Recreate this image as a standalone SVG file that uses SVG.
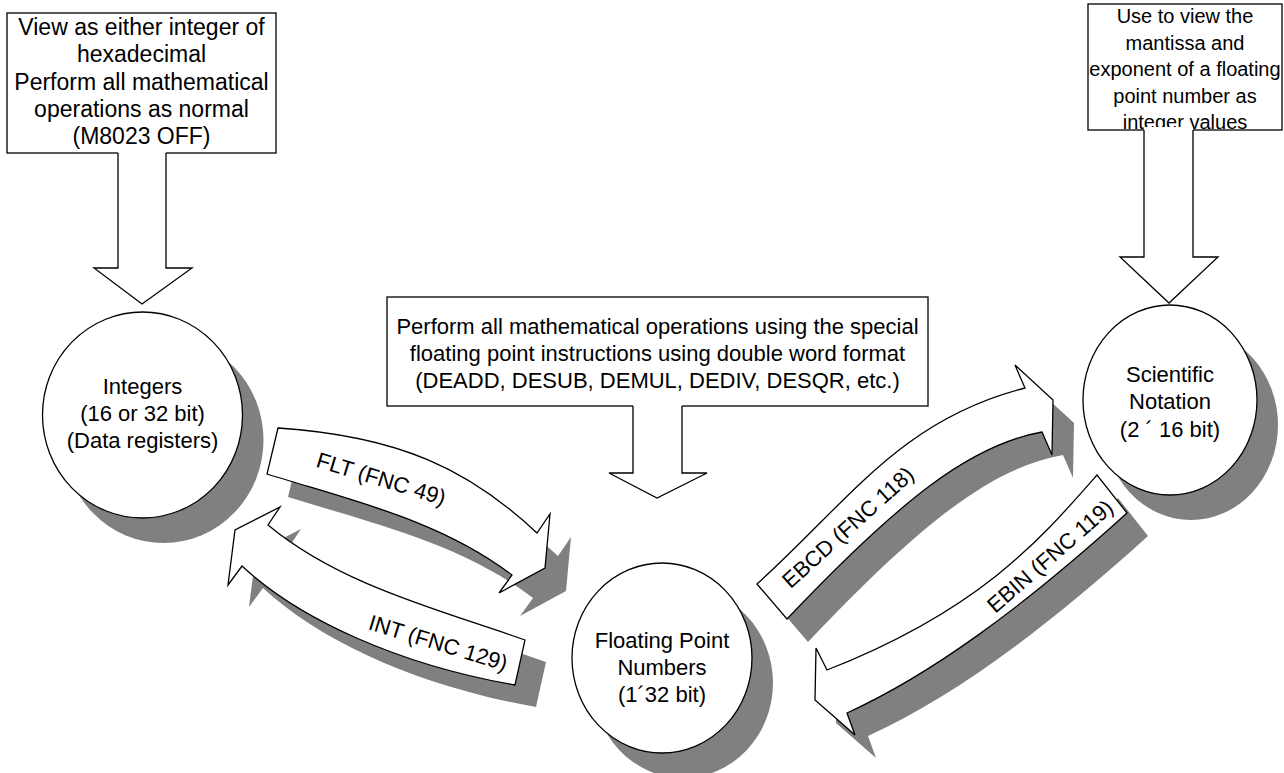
<svg xmlns="http://www.w3.org/2000/svg" width="1284" height="773" viewBox="0 0 1284 773">
<style>
.shape{fill:#fff;stroke:#000;stroke-width:1.3;stroke-linejoin:miter}
.shadow{fill:#808080;stroke:none}
.cover{fill:#fff;stroke:none}
.line{fill:none;stroke:#000;stroke-width:1.3;stroke-linejoin:miter}
text{font-family:"Liberation Sans",Arial,sans-serif;fill:#000;text-anchor:middle}
.t23{font-size:23px}
.t22{font-size:22px}
.t20{font-size:20px}
</style>
<defs>
<path id="fltP" d="M278,428 C400,436 470,470 537,533 L550,514 L545,568 L499,593 L512,575 C440,520 350,500 267,474 Z"/>
<path id="intP" d="M525,640 C440,610 340,585 268,525 L280,507 L235,530 L228,585 L242,566 C300,620 400,665 515,685 Z"/>
<path id="ebcdP" d="M757,584 C850,500 900,420 1025,388 L1015,365 L1053,400 L1052,455 L1042,432 C970,445 900,500 787,619 Z"/>
<path id="ebinP" d="M1097,475 C1040,540 980,610 827,670 L816,648 L815,700 L855,735 L847,713 C930,675 1020,610 1127,513 Z"/>
</defs>
<rect width="1284" height="773" fill="#fff"/>

<g id="shadows">
<ellipse class="shadow" cx="163.5" cy="440" rx="100" ry="103"/>
<ellipse class="shadow" cx="683" cy="683" rx="90" ry="95"/>
<ellipse class="shadow" cx="1191" cy="425" rx="87" ry="95"/>
<use href="#fltP" class="shadow" transform="translate(21,23)"/>
<use href="#intP" class="shadow" transform="translate(21,22)"/>
<use href="#ebcdP" class="shadow" transform="translate(21,23)"/>
<use href="#ebinP" class="shadow" transform="translate(21,23)"/>
</g>

<g id="note-integers">
<rect class="shape" x="7" y="13" width="269" height="140"/>
<text class="t23" x="141.5" y="35">View as either integer of</text>
<text class="t23" x="141.5" y="62">hexadecimal</text>
<text class="t23" x="141.5" y="90">Perform all mathematical</text>
<text class="t23" x="141.5" y="117">operations as normal</text>
<text class="t23" x="141.5" y="144">(M8023 OFF)</text>
</g>

<g id="note-float">
<rect class="shape" x="387" y="297" width="541" height="109"/>
<text class="t22" x="657.5" y="334">Perform all mathematical operations using the special</text>
<text class="t22" x="657.5" y="361">floating point instructions using double word format</text>
<text class="t22" x="657.5" y="388">(DEADD, DESUB, DEMUL, DEDIV, DESQR, etc.)</text>
</g>

<g id="note-scientific">
<rect class="shape" x="1088" y="4" width="194" height="126"/>
<text class="t20" x="1185" y="23">Use to view the</text>
<text class="t20" x="1185" y="49.5">mantissa and</text>
<text class="t20" x="1185" y="76">exponent of a floating</text>
<text class="t20" x="1185" y="102.5">point number as</text>
<text class="t20" x="1185" y="129">integer values</text>
</g>

<g id="node-integers">
<ellipse class="shape" cx="142.5" cy="415" rx="100" ry="103"/>
<text class="t22" x="142.5" y="394">Integers</text>
<text class="t22" x="142.5" y="421">(16 or 32 bit)</text>
<text class="t22" x="142.5" y="448">(Data registers)</text>
</g>

<g id="node-float">
<ellipse class="shape" cx="662" cy="658" rx="90" ry="95"/>
<text class="t22" x="662" y="648">Floating Point</text>
<text class="t22" x="662" y="675">Numbers</text>
<text class="t22" x="662" y="702">(1´32 bit)</text>
</g>

<g id="node-scientific">
<ellipse class="shape" cx="1170" cy="400" rx="87" ry="95"/>
<text class="t22" x="1170" y="382">Scientific</text>
<text class="t22" x="1170" y="409">Notation</text>
<text class="t22" x="1170" y="437">(2 ´ 16 bit)</text>
</g>

<g id="connectors">
<path class="cover" d="M118,150 L118,268 L94,268 L142,304 L192,268 L166,268 L166,150 Z"/>
<path class="line" d="M118,153 L118,268 L94,268 L142,304 L192,268 L166,268 L166,153"/>
<path class="cover" d="M1144,127 L1144,257 L1120,257 L1169,303 L1218,257 L1193,257 L1193,127 Z"/>
<path class="line" d="M1144,130 L1144,257 L1120,257 L1169,303 L1218,257 L1193,257 L1193,130"/>
<path class="cover" d="M633,403 L633,473 L609,473 L657,498 L707,473 L682,473 L682,403 Z"/>
<path class="line" d="M633,406 L633,473 L609,473 L657,498 L707,473 L682,473 L682,406"/>

<g id="arrow-flt">
<use href="#fltP" class="shape"/>
<text class="t22" transform="translate(379,486) rotate(17)">FLT (FNC 49)</text>
</g>
<g id="arrow-int">
<use href="#intP" class="shape"/>
<text class="t22" transform="translate(436,650) rotate(17)">INT (FNC 129)</text>
</g>
<g id="arrow-ebcd">
<use href="#ebcdP" class="shape"/>
<text class="t22" transform="translate(853,533) rotate(-42)">EBCD (FNC 118)</text>
</g>
<g id="arrow-ebin">
<use href="#ebinP" class="shape"/>
<text class="t22" transform="translate(1055,562) rotate(-41)">EBIN (FNC 119)</text>
</g>
</g>
</svg>
